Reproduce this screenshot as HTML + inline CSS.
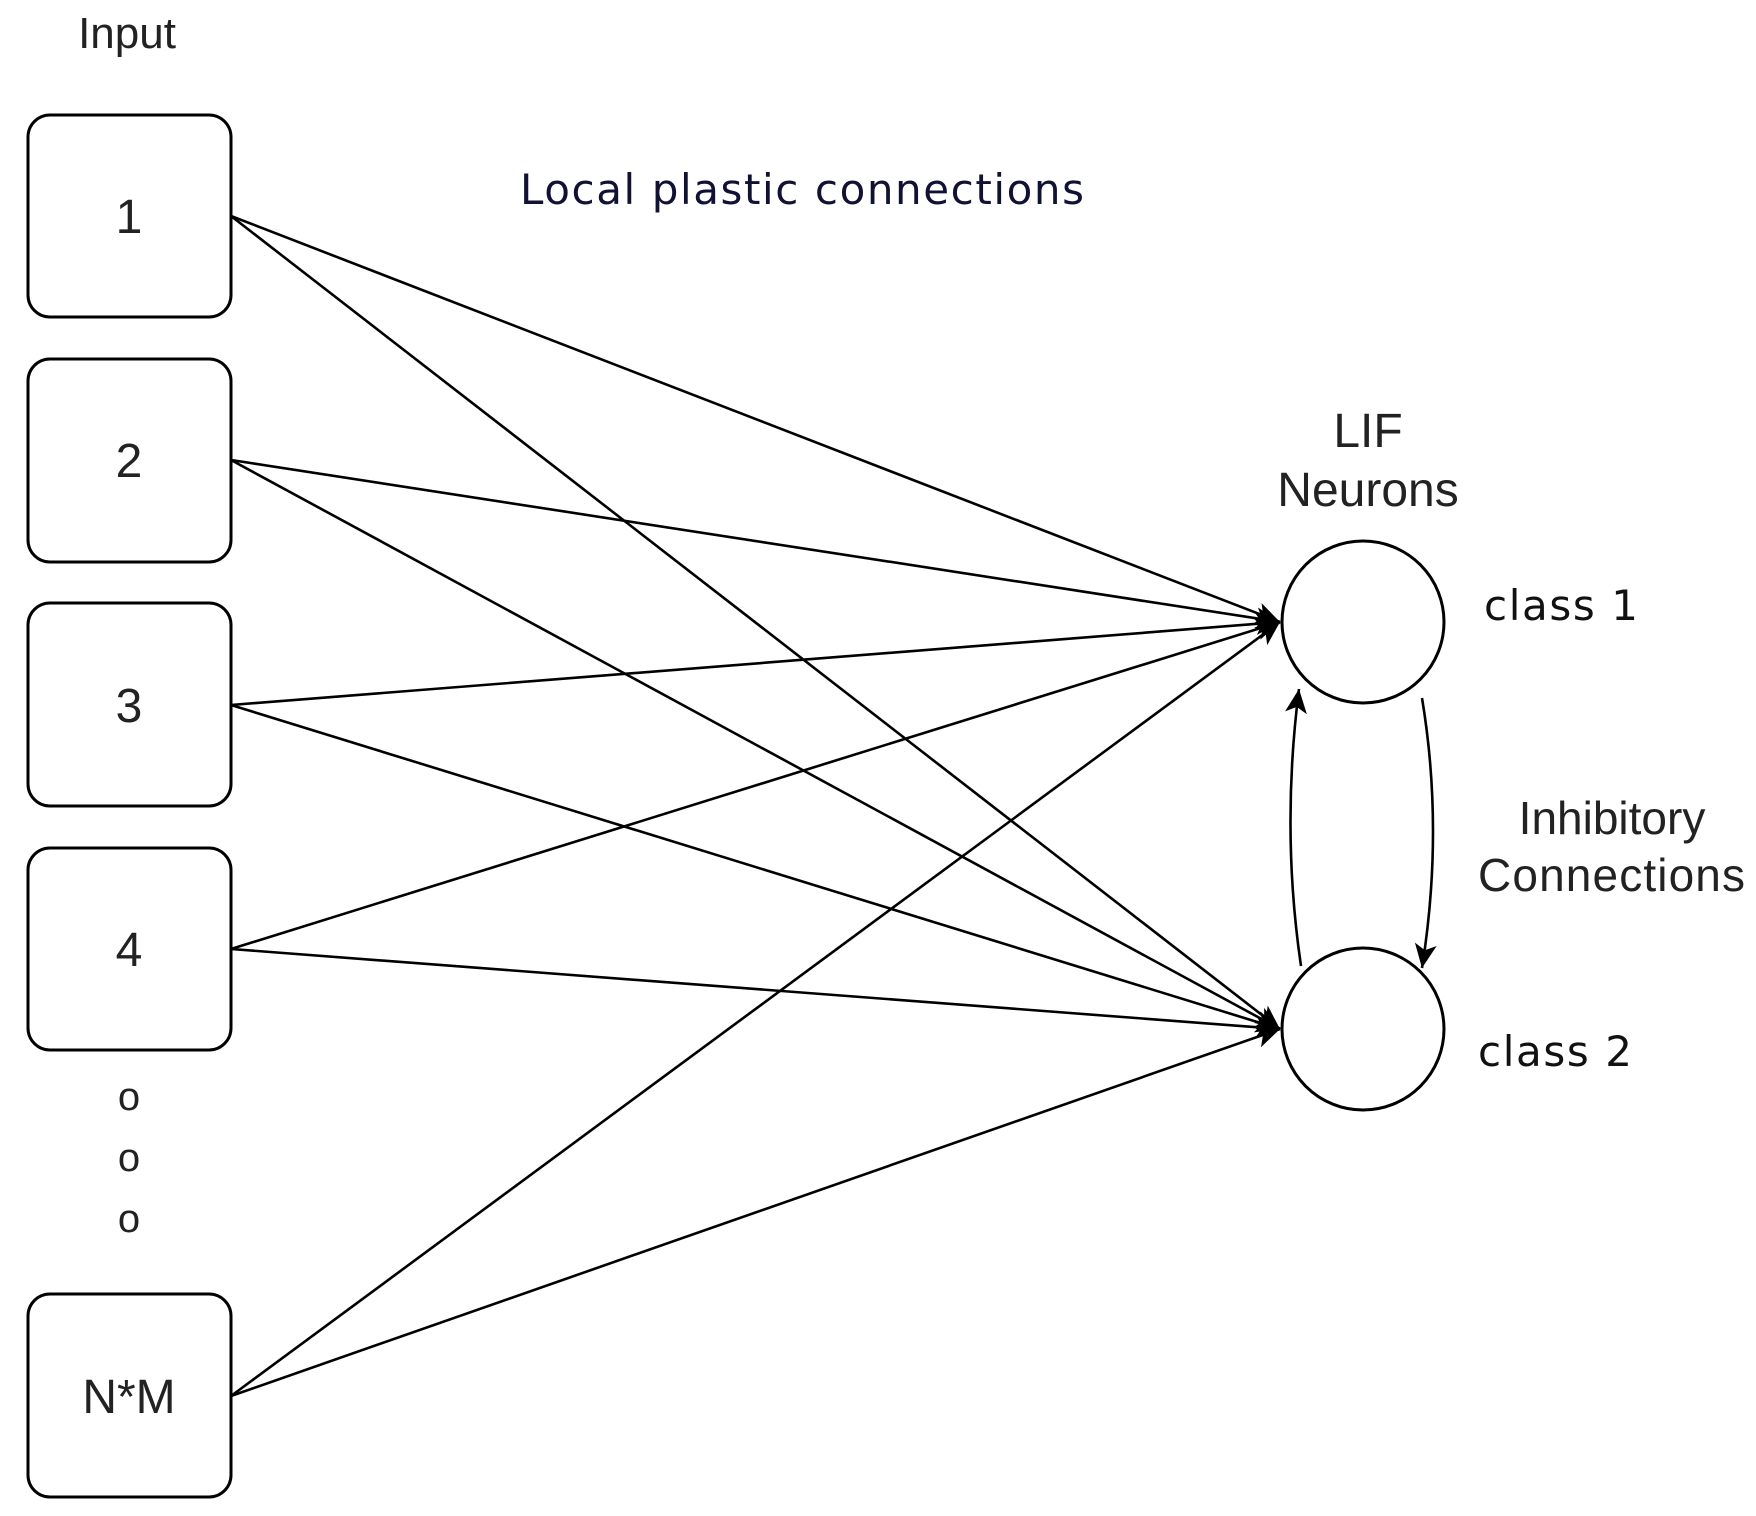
<!DOCTYPE html>
<html><head><meta charset="utf-8"><style>
html,body{margin:0;padding:0;background:#fff;}
svg{display:block;}
text{font-family:"Liberation Sans",sans-serif;fill:#222;}
.v{font-family:"DejaVu Sans",sans-serif;}
</style></head><body>
<svg width="1756" height="1516" viewBox="0 0 1756 1516" xmlns="http://www.w3.org/2000/svg">
<defs>
<marker id="b" markerWidth="26" markerHeight="26" refX="24" refY="13" orient="auto" markerUnits="userSpaceOnUse" viewBox="0 0 26 26">
<path d="M0,2 L24,13 L0,24 L6,13 z" fill="#000"/>
</marker>
</defs>
<g fill="#fff" stroke="#000" stroke-width="3">
<rect x="28" y="115" width="203" height="202" rx="22"/>
<rect x="28" y="359" width="203" height="203" rx="22"/>
<rect x="28" y="603" width="203" height="203" rx="22"/>
<rect x="28" y="848" width="203" height="202" rx="22"/>
<rect x="28" y="1294" width="203" height="203" rx="22"/>
<circle cx="1363" cy="622" r="81"/>
<circle cx="1363" cy="1029" r="81"/>
</g>
<g stroke="#000" stroke-width="2.6" fill="none" marker-end="url(#b)">
<line x1="231" y1="216" x2="1280" y2="622"/>
<line x1="231" y1="216" x2="1280" y2="1029"/>
<line x1="231" y1="460" x2="1280" y2="622"/>
<line x1="231" y1="460" x2="1280" y2="1029"/>
<line x1="231" y1="705" x2="1280" y2="622"/>
<line x1="231" y1="705" x2="1280" y2="1029"/>
<line x1="231" y1="949" x2="1280" y2="622"/>
<line x1="231" y1="949" x2="1280" y2="1029"/>
<line x1="231" y1="1396" x2="1280" y2="622"/>
<line x1="231" y1="1396" x2="1280" y2="1029"/>
<path d="M1301,966 Q1281,830 1299,689"/>
<path d="M1422,698 Q1444,830 1422,968"/>
</g>
<text x="127" y="48" font-size="44" text-anchor="middle">Input</text>
<text x="129" y="233" font-size="48" text-anchor="middle">1</text>
<text x="129" y="477" font-size="48" text-anchor="middle">2</text>
<text x="129" y="722" font-size="48" text-anchor="middle">3</text>
<text x="129" y="966" font-size="48" text-anchor="middle">4</text>
<text x="129" y="1413" font-size="48" text-anchor="middle">N*M</text>
<text x="129" y="1110" font-size="40" text-anchor="middle">o</text>
<text x="129" y="1171" font-size="40" text-anchor="middle">o</text>
<text x="129" y="1232" font-size="40" text-anchor="middle">o</text>
<text class="v" x="520" y="204" font-size="42" textLength="564" style="fill:#111133">Local plastic connections</text>
<text x="1368" y="447" font-size="48" text-anchor="middle">LIF</text>
<text x="1368" y="506" font-size="48" text-anchor="middle">Neurons</text>
<text class="v" x="1484" y="620" font-size="42" textLength="154" style="fill:#111">class 1</text>
<text class="v" x="1478" y="1066" font-size="42" textLength="154" style="fill:#111">class 2</text>
<text x="1612" y="834" font-size="46" text-anchor="middle">Inhibitory</text>
<text x="1478" y="891" font-size="46" textLength="267">Connections</text>
</svg>
</body></html>
